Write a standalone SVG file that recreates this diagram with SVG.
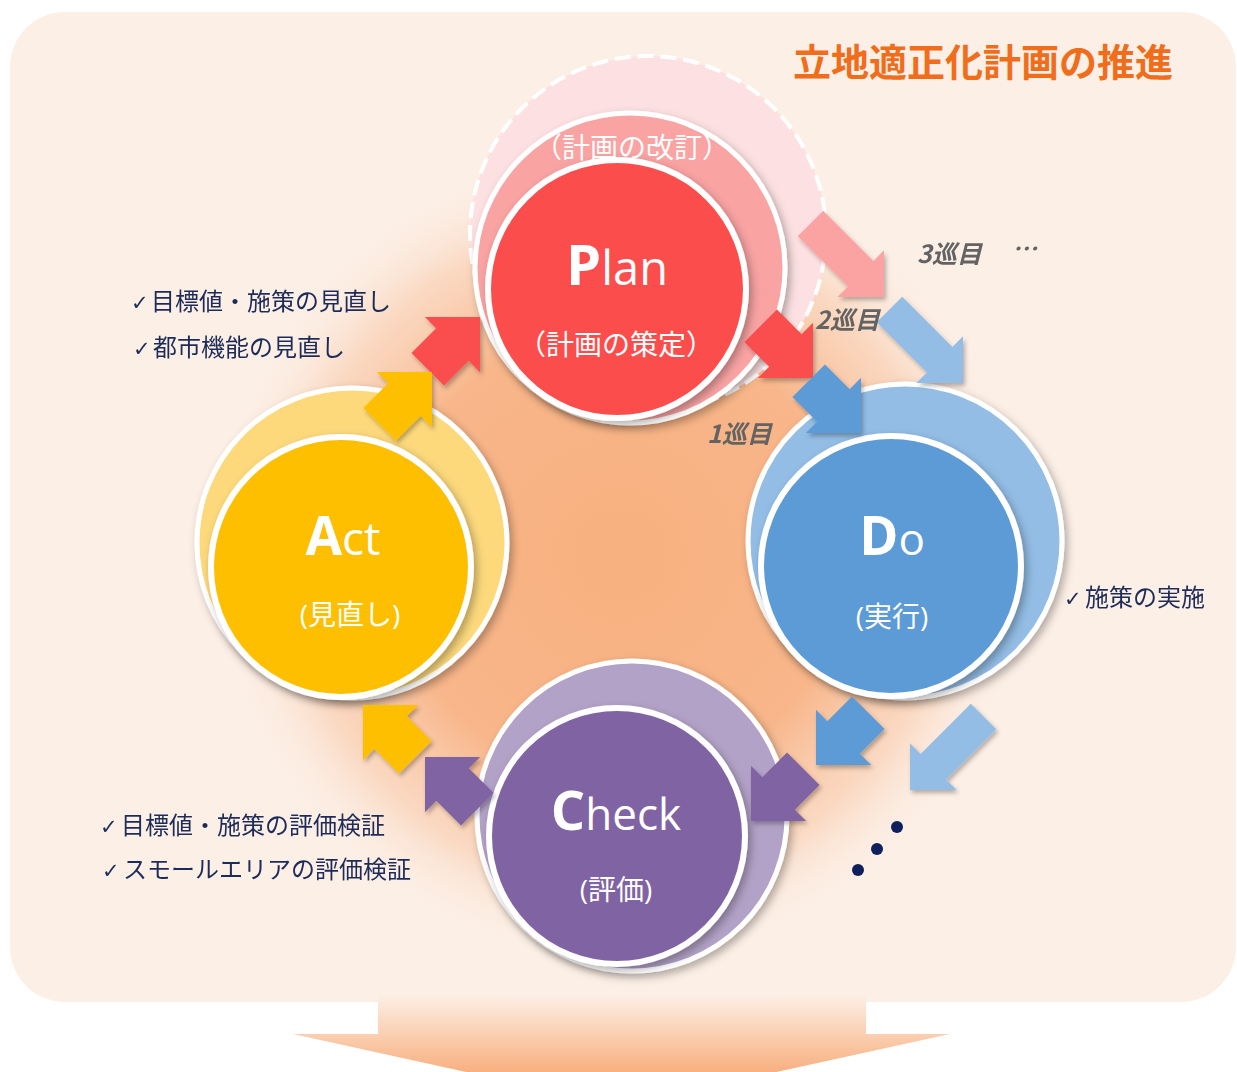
<svg xmlns="http://www.w3.org/2000/svg" width="1237" height="1072" viewBox="0 0 1237 1072">
<defs>
  <style>
    .cl{font-family:"Noto Sans CJK JP",sans-serif;font-size:24px;fill:#1c2b58;}
    .ck{font-family:"DejaVu Sans","Noto Sans CJK JP",sans-serif;font-size:21px;}
    .big{fill:#fff;font-family:"Open Sans","Noto Sans CJK JP",sans-serif;}
    .sub{fill:#fff;font-family:"Open Sans","Noto Sans CJK JP",sans-serif;font-size:28px;}
    .round{font-family:"Noto Sans CJK JP",sans-serif;font-size:25px;font-weight:700;font-style:italic;fill:#636363;}
    .ring{stroke:#fff;stroke-width:5;}
    .core{stroke:#fff;stroke-width:6;}
  </style>
  <radialGradient id="glow" cx="620" cy="555" r="410" gradientUnits="userSpaceOnUse">
    <stop offset="0" stop-color="#f7b07f"/>
    <stop offset="0.55" stop-color="#f8b68a"/>
    <stop offset="0.8" stop-color="#f9c9a8" stop-opacity="0.6"/>
    <stop offset="1" stop-color="#fcefe6" stop-opacity="0"/>
  </radialGradient>
  <linearGradient id="down" x1="0" y1="995" x2="0" y2="1072" gradientUnits="userSpaceOnUse">
    <stop offset="0" stop-color="#fcefe6"/>
    <stop offset="1" stop-color="#f8b080"/>
  </linearGradient>
  <filter id="sh" x="-20%" y="-20%" width="140%" height="140%">
    <feDropShadow dx="3" dy="4" stdDeviation="4" flood-color="#000" flood-opacity="0.3"/>
  </filter>
  <filter id="ash" x="-30%" y="-30%" width="160%" height="160%">
    <feDropShadow dx="2" dy="3" stdDeviation="2" flood-color="#000" flood-opacity="0.28"/>
  </filter>
  <path id="arrowA" d="M-74,-23 H-39 V-39 L0,0 L-39,39 V23 H-74 Z"/>
  <path id="arrowB" d="M-104,-18 H-33 V-33 L0,0 L-33,33 V18 H-104 Z"/>
</defs>

<g id="background">
  <rect x="10" y="12" width="1226" height="990" rx="55" fill="#fcefe6"/>
  <circle cx="620" cy="555" r="410" fill="url(#glow)"/>
  <polygon points="378,995 866,995 866,1034 950,1034 621,1106 293,1034 378,1034" fill="url(#down)"/>
</g>

<g id="title">
  <text x="793" y="76" font-family="Noto Sans CJK JP, sans-serif" font-size="38" font-weight="700" fill="#f06d1c">立地適正化計画の推進</text>
</g>

<g id="plan">
  <circle cx="648" cy="234" r="178" fill="#fde1e2" stroke="#fff" stroke-width="4" stroke-dasharray="16 7"/>
  <circle cx="630" cy="268" r="155" fill="#f9a3a3" class="ring" filter="url(#sh)"/>
  <circle cx="617" cy="289" r="129" fill="#fc4e4e" class="core" filter="url(#sh)"/>
  <text x="632" y="158" class="sub" text-anchor="middle">（計画の改訂）</text>
  <text x="617" y="285" class="big" text-anchor="middle"><tspan font-size="56" font-weight="700">P</tspan><tspan font-size="47">lan</tspan></text>
  <text x="616" y="355" class="sub" text-anchor="middle">（計画の策定）</text>
</g>

<g id="act">
  <circle cx="352" cy="543" r="155" fill="#fdd97c" class="ring" filter="url(#sh)"/>
  <circle cx="341" cy="567" r="130" fill="#fdbf00" class="core" filter="url(#sh)"/>
  <text x="343" y="555" class="big" text-anchor="middle"><tspan font-size="53" font-weight="700">A</tspan><tspan font-size="46">ct</tspan></text>
  <text x="350" y="625" class="sub" text-anchor="middle">(見直し)</text>
</g>

<g id="do">
  <circle cx="905" cy="541" r="157" fill="#93bde5" class="ring" filter="url(#sh)"/>
  <circle cx="891" cy="566" r="130" fill="#5b9bd5" class="core" filter="url(#sh)"/>
  <text x="892" y="555" class="big" text-anchor="middle"><tspan font-size="53" font-weight="700">D</tspan><tspan font-size="44">o</tspan></text>
  <text x="892" y="627" class="sub" text-anchor="middle">(実行)</text>
</g>

<g id="check">
  <circle cx="632" cy="816" r="155" fill="#b3a2c7" class="ring" filter="url(#sh)"/>
  <circle cx="617" cy="836" r="128" fill="#8064a2" class="core" filter="url(#sh)"/>
  <text x="616" y="830" class="big" text-anchor="middle"><tspan font-size="54" font-weight="700">C</tspan><tspan font-size="44">heck</tspan></text>
  <text x="616" y="900" class="sub" text-anchor="middle">(評価)</text>
</g>

<g id="connectors" filter="url(#ash)">
  <use href="#arrowA" transform="translate(480,317) rotate(-45)" fill="#fa4d4d"/>
  <use href="#arrowA" transform="translate(432,372) rotate(-45)" fill="#fdbf00"/>
  <use href="#arrowA" transform="translate(813,378) rotate(45)" fill="#fa4d4d"/>
  <use href="#arrowA" transform="translate(861,433) rotate(45)" fill="#5b9bd5"/>
  <use href="#arrowB" transform="translate(884,297) rotate(45)" fill="#fba3a3"/>
  <use href="#arrowB" transform="translate(963,383) rotate(45)" fill="#93bde5"/>
  <use href="#arrowA" transform="translate(816,765) rotate(135)" fill="#5b9bd5"/>
  <use href="#arrowB" transform="translate(910,790) rotate(135)" fill="#93bde5"/>
  <use href="#arrowA" transform="translate(751,821) rotate(135)" fill="#8064a2"/>
  <use href="#arrowA" transform="translate(425,757) rotate(-135)" fill="#8064a2"/>
  <use href="#arrowA" transform="translate(363,705) rotate(-135)" fill="#fdbf00"/>
</g>

<g id="cycle-labels">
  <text x="707" y="443" class="round">1巡目</text>
  <text x="815" y="329" class="round">2巡目</text>
  <text x="917" y="263" class="round">3巡目</text>
  <text x="1012" y="258" class="round" font-size="20">…</text>
</g>

<g id="more">
  <circle cx="897" cy="827" r="6" fill="#0f1f5c"/>
  <circle cx="877" cy="849" r="6" fill="#0f1f5c"/>
  <circle cx="858" cy="870" r="6" fill="#0f1f5c"/>
</g>

<g id="notes-act">
  <text class="cl" y="310"><tspan class="ck" x="131">✓</tspan><tspan x="151">目標値・施策の見直し</tspan></text>
  <text class="cl" y="356"><tspan class="ck" x="133">✓</tspan><tspan x="153">都市機能の見直し</tspan></text>
</g>

<g id="notes-do">
  <text class="cl" y="606"><tspan class="ck" x="1064">✓</tspan><tspan x="1085">施策の実施</tspan></text>
</g>

<g id="notes-check">
  <text class="cl" y="834"><tspan class="ck" x="100">✓</tspan><tspan x="121">目標値・施策の評価検証</tspan></text>
  <text class="cl" y="878"><tspan class="ck" x="102">✓</tspan><tspan x="123">スモールエリアの評価検証</tspan></text>
</g>
</svg>
